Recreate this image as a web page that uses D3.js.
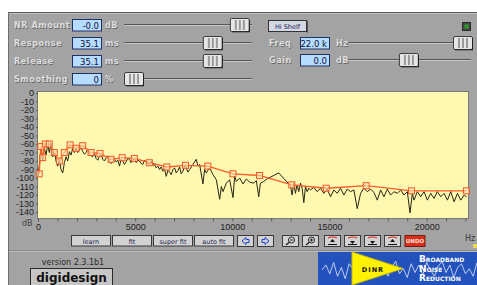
<!DOCTYPE html>
<html lang="en">
<head>
<meta charset="UTF-8">
<title>DINR Broadband Noise Reduction</title>
<script src="https://d3js.org/d3.v7.min.js"></script>
<style>
    body { margin: 0; background: #fff; }
    svg { display: block; font-family: "DejaVu Sans", sans-serif; }
    .axis text { font-size: 9px; fill: #1e1e1e; }
    .axis path { display: none; }
    .axis line { stroke: #5a5a5a; }
    .etched { font-size: 8px; font-weight: bold; letter-spacing: 0.6px; }
</style>
</head>
<body>
<svg width="477" height="285"></svg>
<script>
    // measured noise spectrum (black trace), Hz / dB
    const spectrumHz = [0, 155, 241, 326, 412, 498, 584, 670, 756, 842,
        928, 1014, 1100, 1186, 1272, 1357, 1443, 1529, 1615, 1701,
        1787, 1873, 1959, 2045, 2131, 2217, 2303, 2390, 2474, 2560,
        2646, 2732, 2818, 2904, 2990, 3076, 3162, 3248, 3333, 3419,
        3505, 3591, 3677, 3763, 3849, 3935, 4021, 4107, 4193, 4279,
        4365, 4450, 4536, 4622, 4708, 4794, 4880, 4966, 5052, 5138,
        5224, 5310, 5396, 5482, 5567, 5653, 5739, 5825, 5911, 5997,
        6083, 6169, 6255, 6341, 6427, 6512, 6598, 6684, 6770, 6856,
        6942, 7028, 7114, 7200, 7286, 7372, 7458, 7543, 7629, 7715,
        7801, 7887, 7973, 8145, 8231, 8317, 8488, 8574, 8660, 8832,
        9004, 9176, 9348, 9434, 9520, 9691, 9863, 10035, 10121, 10207,
        10379, 10551, 10722, 10894, 11101, 11238, 11358, 11444, 11616, 11788,
        12389, 12990, 13076, 13162, 13248, 13334, 13420, 13506, 13592, 13678,
        13764, 13850, 13936, 14022, 14194, 14365, 14537, 14709, 14881, 15053,
        15225, 15397, 15568, 15740, 15912, 16084, 16256, 16428, 16600, 16771,
        16943, 17115, 17287, 17459, 17631, 17802, 17974, 18146, 18318, 18490,
        18662, 18833, 19005, 19143, 19263, 19349, 19521, 19693, 19865, 20036,
        20208, 20380, 20552, 20724, 20896, 21067, 21239, 21411, 21583, 21755,
        21927, 22050];
    const spectrumDb = [-98, -67, -80, -65, -73, -61, -70, -59, -75, -69,
        -80, -86, -78, -90, -94, -82, -75, -80, -69, -73,
        -65, -70, -65, -70, -67, -64, -69, -72, -70, -66,
        -72, -74, -75, -71, -77, -79, -74, -72, -78, -80,
        -76, -74, -80, -83, -81, -78, -81, -79, -86, -78,
        -80, -84, -81, -77, -78, -82, -79, -77, -82, -79,
        -80, -83, -84, -79, -81, -83, -84, -80, -85, -84,
        -88, -86, -90, -87, -92, -89, -98, -91, -93, -96,
        -90, -88, -94, -91, -87, -95, -92, -86, -88, -93,
        -90, -87, -84, -78, -86, -84, -107, -90, -94, -88,
        -96, -102, -125, -110, -116, -106, -102, -123, -98, -104,
        -100, -107, -101, -105, -106, -103, -122, -106, -104, -101,
        -94, -109, -120, -106, -118, -108, -116, -106, -112, -129,
        -110, -116, -112, -114, -111, -116, -112, -118, -113, -122,
        -114, -118, -112, -120, -113, -116, -114, -136, -118, -112,
        -116, -113, -117, -126, -114, -122, -113, -120, -116, -118,
        -114, -120, -116, -141, -118, -126, -116, -122, -116, -126,
        -118, -124, -116, -122, -118, -126, -116, -128, -118, -126,
        -120, -122];

    // fitted threshold curve (orange, with control points)
    const fitHz = [60, 150, 240, 380, 580, 840, 1100, 1350, 1650, 1960, 2300, 2730, 3190, 3760, 4330, 4960,
        5730, 6630, 7590, 8740, 10030, 11400, 13060, 14830, 16890, 19220, 22050];
    const fitDb = [-95, -63, -76, -60, -60, -70, -80, -70, -61, -65, -62, -70, -71, -78, -76, -77,
        -82, -87, -85, -86, -95, -97, -108, -112, -109, -115, -115];

    const yTicks = [0, -10, -20, -30, -40, -50, -60, -70, -80, -90, -100, -110, -120, -130, -140];
    const xTicks = [0, 5000, 10000, 15000, 20000];
    const xMinorTicks = [0, 1000, 2000, 3000, 4000, 5000, 6000, 7000, 8000, 9000, 10000, 11000,
        12000, 13000, 14000, 15000, 16000, 17000, 18000, 19000, 20000, 21000, 22000];

    // control panel settings
    const leftLabels = ["NR Amount", "Response", "Release", "Smoothing"];
    const leftValues = ["-0.0", "35.1", "35.1", "0"];
    const leftUnits = ["dB", "ms", "ms", "%"];
    const leftLevels = [0.98, 0.73, 0.73, 0];
    const rightLabels = ["Freq", "Gain"];
    const rightValues = ["22.0 k", "0.0"];
    const rightUnits = ["Hz", "dB"];
    const rightLevels = [1, 0.48];
    const buttonLabels = ["learn", "fit", "super fit", "auto fit"];
    const iconButtons = ["left", "right", "zoomOut", "zoomIn", "up", "down", "shrink", "grow"];
    const logoWave = [0, 4, -3, 6, -5, 2, -7, 5, 1, -4, 8, -2, 3, -6, 4, -1, 6, -5, 2, 7, -3, 1, -6, 5, -2,
        4, -4, 6, 0, -5, 3, 7, -2, 4, -6, 2, 5, -3, 1, -5, 6];

    const svg = d3.select("svg");
    const W = 477, H = 285;

    // panel background
    svg.append("rect").attr("x", 8).attr("y", 12).attr("width", W - 8).attr("height", H - 12).attr("fill", "#a3a3a3");
    svg.append("line").attr("x1", 8).attr("x2", W).attr("y1", 12.5).attr("y2", 12.5).attr("stroke", "#5a5a5a");
    svg.append("line").attr("x1", 8).attr("x2", W).attr("y1", 13.5).attr("y2", 13.5).attr("stroke", "#c2c2c2");
    svg.append("line").attr("x1", 8.5).attr("x2", 8.5).attr("y1", 12).attr("y2", H).attr("stroke", "#6e6e6e");

    function etched(g, x, y, txt, anchor) {
        g.append("text").attr("class", "etched").attr("x", x + 0.7).attr("y", y + 0.7)
            .attr("text-anchor", anchor || "start").attr("fill", "#6a6a6a").text(txt);
        g.append("text").attr("class", "etched").attr("x", x).attr("y", y)
            .attr("text-anchor", anchor || "start").attr("fill", "#dedede").text(txt);
    }

    function valueBox(g, x, y, w, txt) {
        g.append("rect").attr("x", x + 0.5).attr("y", y + 0.5).attr("width", w).attr("height", 11.5)
            .attr("fill", "#b6dcff").attr("stroke", "#22306a");
        g.append("text").attr("x", x + w - 2).attr("y", y + 9.5).attr("text-anchor", "end")
            .attr("font-size", 8.5).attr("fill", "#10103a").text(txt);
    }

    function thumb(g, x, cy) {
        const t = g.append("g").attr("transform", `translate(${x},${cy - 7})`);
        t.append("rect").attr("x", 0.5).attr("y", 0.5).attr("width", 19).attr("height", 13)
            .attr("fill", "#e6e6e6").attr("stroke", "#3c3c3c").attr("rx", 1.5);
        [5, 9, 13].forEach(v => t.append("rect").attr("x", v).attr("y", 2).attr("width", 2).attr("height", 10)
            .attr("fill", "#9a9a9a"));
        t.append("line").attr("x1", 19.5).attr("x2", 19.5).attr("y1", 2).attr("y2", 14).attr("stroke", "#222");
        t.append("line").attr("x1", 2).attr("x2", 20).attr("y1", 13.8).attr("y2", 13.8).attr("stroke", "#222");
    }

    function track(g, x1, x2, cy) {
        g.append("line").attr("x1", x1).attr("x2", x2).attr("y1", cy - 0.5).attr("y2", cy - 0.5).attr("stroke", "#555");
        g.append("line").attr("x1", x1).attr("x2", x2).attr("y1", cy + 0.5).attr("y2", cy + 0.5).attr("stroke", "#c8c8c8");
    }

    // left controls
    const ctrl = svg.append("g");
    const leftSlider = d3.scaleLinear().domain([0, 1]).range([124, 232]);
    leftLabels.forEach((lab, i) => {
        const top = [19, 37, 55, 73][i];
        const cy = top + 6;
        etched(ctrl, 14, cy + 3, lab);
        valueBox(ctrl, 72, top, 29, leftValues[i]);
        etched(ctrl, 105, cy + 3, leftUnits[i]);
        track(ctrl, 124, 252, cy);
        thumb(ctrl, leftSlider(leftLevels[i]), cy);
    });

    // right controls
    const rightSlider = d3.scaleLinear().domain([0, 1]).range([349, 453]);
    rightLabels.forEach((lab, i) => {
        const top = [37, 54][i];
        const cy = top + 6;
        etched(ctrl, 269, cy + 3, lab);
        valueBox(ctrl, 300, top, 29, rightValues[i]);
        etched(ctrl, 336, cy + 3, rightUnits[i]);
        track(ctrl, 349, 471, cy);
        thumb(ctrl, rightSlider(rightLevels[i]), cy);
    });

    // Hi Shelf button and indicator
    ctrl.append("rect").attr("x", 268.5).attr("y", 20.5).attr("width", 38).attr("height", 11)
        .attr("fill", "#d3d8e4").attr("stroke", "#333");
    ctrl.append("line").attr("x1", 307.5).attr("x2", 307.5).attr("y1", 21).attr("y2", 33).attr("stroke", "#555");
    ctrl.append("text").attr("x", 287.5).attr("y", 29).attr("text-anchor", "middle")
        .attr("font-size", 6.5).attr("fill", "#1a2050").text("Hi Shelf");
    ctrl.append("rect").attr("x", 462.5).attr("y", 22.5).attr("width", 8).attr("height", 8)
        .attr("fill", "#4a4a4a").attr("stroke", "#2a2a2a");
    ctrl.append("rect").attr("x", 464.5).attr("y", 24.5).attr("width", 4).attr("height", 4).attr("fill", "#2a9a2a");

    // spectrum plot
    const x = d3.scaleLinear().domain([0, 22050]).range([38, 466.5]);
    const y = d3.scaleLinear().domain([-147, 0]).range([218, 93]);

    svg.append("rect").attr("x", 37.5).attr("y", 91.5).attr("width", 431).attr("height", 127)
        .attr("fill", "#fff8b0").attr("stroke", "#7a7a7a");

    svg.append("g").attr("class", "axis").attr("transform", "translate(38,0)")
        .call(d3.axisLeft(y).tickValues(yTicks).tickSize(2).tickPadding(2).tickFormat(d => String(d)));
    svg.append("g").attr("class", "axis").attr("transform", "translate(0,218.5)")
        .call(d3.axisBottom(x).tickValues(xMinorTicks).tickSize(3).tickFormat(""));
    svg.append("g").attr("class", "axis").attr("transform", "translate(0,222)")
        .call(d3.axisBottom(x).tickValues(xTicks).tickSize(0).tickPadding(2).tickFormat(d => String(d)));
    svg.append("text").attr("x", 22).attr("y", 226).attr("font-size", 8).attr("fill", "#444").text("dB");
    svg.append("text").attr("x", 465).attr("y", 241).attr("font-size", 8).attr("fill", "#333").text("Hz");
    svg.append("rect").attr("x", 473).attr("y", 244).attr("width", 4).attr("height", 4).attr("fill", "#e8d860");

    const spectrum = spectrumHz.map((f, i) => [f, spectrumDb[i]]);
    const fit = fitHz.map((f, i) => [f, fitDb[i]]);
    const line = d3.line().x(d => x(d[0])).y(d => y(d[1]));

    svg.append("path").datum(spectrum).attr("d", line)
        .attr("fill", "none").attr("stroke", "#262614").attr("stroke-width", 1);
    svg.append("path").datum(fit).attr("d", line)
        .attr("fill", "none").attr("stroke", "#ff5a2a").attr("stroke-width", 1.3);
    svg.append("g").selectAll("rect").data(fit).join("rect")
        .attr("x", d => x(d[0]) - 3).attr("y", d => y(d[1]) - 3)
        .attr("width", 6).attr("height", 6)
        .attr("fill", "#ffe3b0").attr("fill-opacity", 0.6)
        .attr("stroke", "#f25a2a").attr("stroke-width", 1);

    // button row
    const btn = svg.append("g");
    const textBtnX = d3.scaleLinear().domain([0, 1]).range([71, 112]);
    buttonLabels.forEach((lab, i) => {
        const bx = textBtnX(i);
        btn.append("rect").attr("x", bx + 0.5).attr("y", 235.5).attr("width", 39).attr("height", 10.5)
            .attr("fill", "#d2d2d2").attr("stroke", "#3a3a3a");
        btn.append("text").attr("x", bx + 20).attr("y", 243.5).attr("text-anchor", "middle")
            .attr("font-size", 6.5).attr("fill", "#1c2050").text(lab);
    });
    let cursor = 237;
    iconButtons.forEach((name, i) => {
        if (i === 2) cursor += 5;
        if (i === 4) cursor += 2;
        const bx = cursor;
        cursor += 20;
        const g = btn.append("g").attr("transform", `translate(${bx},235)`);
        g.append("rect").attr("x", 0.5).attr("y", 0.5).attr("width", 16).attr("height", 11)
            .attr("fill", "#d2d2d2").attr("stroke", "#3a3a3a");
        if (name === "left" || name === "right") {
            const d = name === "left" ? "M5,6 L9,2.5 L9,4.5 L12,4.5 L12,7.5 L9,7.5 L9,9.5 Z"
                : "M12,6 L8,2.5 L8,4.5 L5,4.5 L5,7.5 L8,7.5 L8,9.5 Z";
            g.append("path").attr("d", d).attr("fill", "none").attr("stroke", "#2040d0").attr("stroke-width", 1);
        } else if (name === "zoomOut" || name === "zoomIn") {
            g.append("circle").attr("cx", 9.5).attr("cy", 5).attr("r", 3).attr("fill", "none").attr("stroke", "#222");
            g.append("line").attr("x1", 7.3).attr("y1", 7.2).attr("x2", 4).attr("y2", 10).attr("stroke", "#222").attr("stroke-width", 1.4);
            g.append("line").attr("x1", 8).attr("x2", 11).attr("y1", 5).attr("y2", 5).attr("stroke", "#222");
            if (name === "zoomIn") g.append("line").attr("x1", 9.5).attr("x2", 9.5).attr("y1", 3.5).attr("y2", 6.5).attr("stroke", "#222");
        } else {
            g.append("path").attr("d", "M4,3 Q8.5,1 13,3").attr("fill", "none")
                .attr("stroke", "#e03020").attr("stroke-width", 1.2);
            const arrow = name === "up" || name === "grow" ? "M8.5,4 L6,7 L11,7 Z" : "M8.5,9 L6,6 L11,6 Z";
            g.append("path").attr("d", arrow).attr("fill", "#111");
            g.append("line").attr("x1", 4).attr("x2", 13).attr("y1", 9.5).attr("y2", 9.5).attr("stroke", "#111");
        }
    });
    btn.append("rect").attr("x", 405).attr("y", 235.5).attr("width", 20).attr("height", 11)
        .attr("fill", "#d8301c").attr("stroke", "#7a1a10");
    btn.append("text").attr("x", 415).attr("y", 243.3).attr("text-anchor", "middle")
        .attr("font-size", 5.5).attr("font-weight", "bold").attr("fill", "#ffe0d8").text("UNDO");

    svg.append("line").attr("x1", 9).attr("x2", W).attr("y1", 250.5).attr("y2", 250.5).attr("stroke", "#8a8a8a");
    svg.append("line").attr("x1", 9).attr("x2", W).attr("y1", 251.5).attr("y2", 251.5).attr("stroke", "#bcbcbc");

    // version / logo
    svg.append("text").attr("x", 73).attr("y", 264.5).attr("text-anchor", "middle")
        .attr("font-size", 8).attr("fill", "#2a2a2a").text("version 2.3.1b1");
    svg.append("rect").attr("x", 30.5).attr("y", 268.5).attr("width", 82).attr("height", 17)
        .attr("fill", "#c6c6c6").attr("stroke", "#2a2a2a");
    svg.append("text").attr("x", 71.5).attr("y", 281.5).attr("text-anchor", "middle")
        .attr("font-size", 12).attr("font-weight", "bold").attr("fill", "#111").text("digidesign");

    const logo = svg.append("g");
    logo.append("rect").attr("x", 318).attr("y", 252).attr("width", W - 318).attr("height", H - 252).attr("fill", "#2452bc");
    const wx = d3.scaleLinear().domain([0, logoWave.length - 1]).range([322, 477]);
    const wy = d3.scaleLinear().domain([-8, 8]).range([280, 260]);
    logo.append("path").datum(logoWave)
        .attr("d", d3.line().x((d, i) => wx(i)).y(d => wy(d)))
        .attr("fill", "none").attr("stroke", "#dfe8ff").attr("stroke-width", 0.8);
    logo.append("path").attr("d", "M352,252 L352,285 L403,268.5 Z").attr("fill", "#fff200").attr("stroke", "#c8b800");
    logo.append("text").attr("x", 373).attr("y", 271.5).attr("text-anchor", "middle")
        .attr("font-size", 6.5).attr("font-weight", "bold").attr("letter-spacing", 1).attr("fill", "#111").text("DINR");
    ["Broadband", "Noise", "Reduction"].forEach((t, i) => {
        logo.append("text").attr("x", 419).attr("y", 262 + i * 9.5)
            .attr("font-size", 9).attr("font-weight", "bold").attr("font-variant", "small-caps")
            .attr("fill", "#fff").text(t);
    });
</script>
</body>
</html>
